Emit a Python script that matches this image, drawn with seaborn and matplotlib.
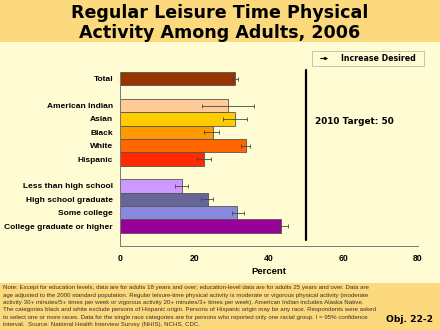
import matplotlib
matplotlib.use("Agg")
import matplotlib.pyplot as plt
import seaborn as sns
import pandas as pd
from matplotlib.patches import Rectangle, FancyArrowPatch

# Data: percent of adults with regular leisure-time physical activity, 2006
categories = ["Total", "American Indian", "Asian", "Black", "White", "Hispanic",
              "Less than high school", "High school graduate", "Some college",
              "College graduate or higher"]
values = [31.0, 29.0, 31.0, 25.0, 33.7, 22.5, 16.6, 23.5, 31.5, 43.3]
ci_low = [30.2, 22.0, 27.7, 22.6, 32.5, 20.6, 14.7, 21.7, 30.0, 42.2]
ci_high = [31.8, 36.0, 34.0, 26.7, 34.8, 24.4, 18.2, 25.0, 33.4, 45.0]
bar_colors = ["#993300", "#FFCC99", "#FFCC00", "#FF9900", "#FF6600", "#FF2A00",
              "#CC99FF", "#666699", "#8888DD", "#990099"]
target = 50
x_ticks = [0, 20, 40, 60, 80]

# Row order with blank spacer rows between groups
order = ["Total", " ", "American Indian", "Asian", "Black", "White", "Hispanic",
         "  ", "Less than high school", "High school graduate", "Some college",
         "College graduate or higher"]

df = pd.DataFrame({"category": categories, "value": values})
palette = dict(zip(categories, bar_colors))

GOLD = "#FBD97C"
CREAM = "#FFFBD3"

sns.set_theme(style="white")
plt.rcParams["font.family"] = ["Liberation Sans", "DejaVu Sans"]
plt.rcParams["text.color"] = "black"
plt.rcParams["axes.labelcolor"] = "black"
plt.rcParams["xtick.color"] = "black"
plt.rcParams["ytick.color"] = "black"

fig = plt.figure(figsize=(4.4, 3.3), dpi=100)
fig.patch.set_facecolor(CREAM)

# Header and footer bands
fig.add_artist(Rectangle((0, 1 - 42 / 330), 1, 42 / 330, transform=fig.transFigure,
                         facecolor=GOLD, edgecolor="none", zorder=0))
fig.add_artist(Rectangle((0, 0), 1, 47 / 330, transform=fig.transFigure,
                         facecolor=GOLD, edgecolor="none", zorder=0))

ax = fig.add_axes([120 / 440, 84 / 330, 298 / 440, 174 / 330])
ax.set_facecolor("none")

sns.barplot(data=df, x="value", y="category", hue="category", order=order,
            hue_order=categories, palette=palette, orient="h", width=1.0,
            edgecolor="#555555", linewidth=0.6, legend=False, saturation=1,
            errorbar=None, ax=ax)

# Confidence intervals
pos = [order.index(c) for c in categories]
xerr = [[v - lo for v, lo in zip(values, ci_low)],
        [hi - v for v, hi in zip(values, ci_high)]]
ax.errorbar(values, pos, xerr=xerr, fmt="none", ecolor="#444444",
            elinewidth=0.6, capsize=1.2, capthick=0.6, zorder=5)

ax.set_xlim(0, 80)
ax.set_ylim(12.48, -0.5)
ax.set_xticks(x_ticks)
ax.set_xticklabels([str(t) for t in x_ticks], fontsize=6.2, fontweight="bold")
ax.set_xlabel("Percent", fontsize=6.8, fontweight="bold", labelpad=3)
ax.set_ylabel("")
ax.tick_params(axis="x", direction="in", length=3, width=0.6, color="#777777",
               pad=6)
ax.tick_params(axis="y", length=0, pad=5)
for lab in ax.get_yticklabels():
    lab.set_fontsize(6.05)
    lab.set_fontweight("bold")
for side in ["top", "right"]:
    ax.spines[side].set_visible(False)
for side in ["left", "bottom"]:
    ax.spines[side].set_color("#777777")
    ax.spines[side].set_linewidth(0.7)

# Target line
ax.plot([target, target], [-0.65, 12.05], color="black", lw=1.6,
        clip_on=False, zorder=6)
fig.text(315 / 440, 1 - 121 / 330, "2010 Target: 50", fontsize=6.4,
         fontweight="bold", family="DejaVu Sans", va="center", ha="left")

# "Increase Desired" key
fig.add_artist(Rectangle((312 / 440, 1 - 66 / 330), 112 / 440, 15 / 330,
                         transform=fig.transFigure, facecolor="none",
                         edgecolor="#BBBBAA", linewidth=0.6))
fig.add_artist(FancyArrowPatch(
    (318 / 440, 1 - 58.5 / 330), (331 / 440, 1 - 58.5 / 330),
    transform=fig.transFigure, arrowstyle="-|>", mutation_scale=4,
    color="black", linewidth=0.8))
fig.text(341 / 440, 1 - 58.5 / 330, "Increase Desired", fontsize=5.7,
         fontweight="bold", family="DejaVu Sans", va="center", ha="left")

# Title
fig.text(0.5, 1 - 13 / 330, "Regular Leisure Time Physical", fontsize=12.6,
         fontweight="bold", family="DejaVu Sans", ha="center", va="center",
         color="black")
fig.text(0.5, 1 - 33 / 330, "Activity Among Adults, 2006", fontsize=12.6,
         fontweight="bold", family="DejaVu Sans", ha="center", va="center",
         color="black")

# Footnote
note_lines = [
    "Note: Except for education levels, data are for adults 18 years and over; education-level data are for adults 25 years and over. Data are",
    "age adjusted to the 2000 standard population. Regular leisure-time physical activity is moderate or vigorous physical activity (moderate",
    "activity 30+ minutes/5+ times per week or vigorous activity 20+ minutes/3+ times per week). American Indian includes Alaska Native.",
    "The categories black and white exclude persons of Hispanic origin. Persons of Hispanic origin may be any race. Respondents were asked",
    "to select one or more races. Data for the single race categories are for persons who reported only one racial group. I = 95% confidence",
    "interval.  Source: National Health Interview Survey (NHIS), NCHS, CDC.",
]
for i, line in enumerate(note_lines):
    fig.text(3 / 440, 1 - (288 + 7.3 * i) / 330, line, fontsize=4.4,
             color="#333333", ha="left", va="center")
fig.text(433 / 440, 1 - 320 / 330, "Obj. 22-2", fontsize=6.6,
         fontweight="bold", family="DejaVu Sans", ha="right", va="center")

fig.savefig("out.png", dpi=100, facecolor=fig.get_facecolor())
